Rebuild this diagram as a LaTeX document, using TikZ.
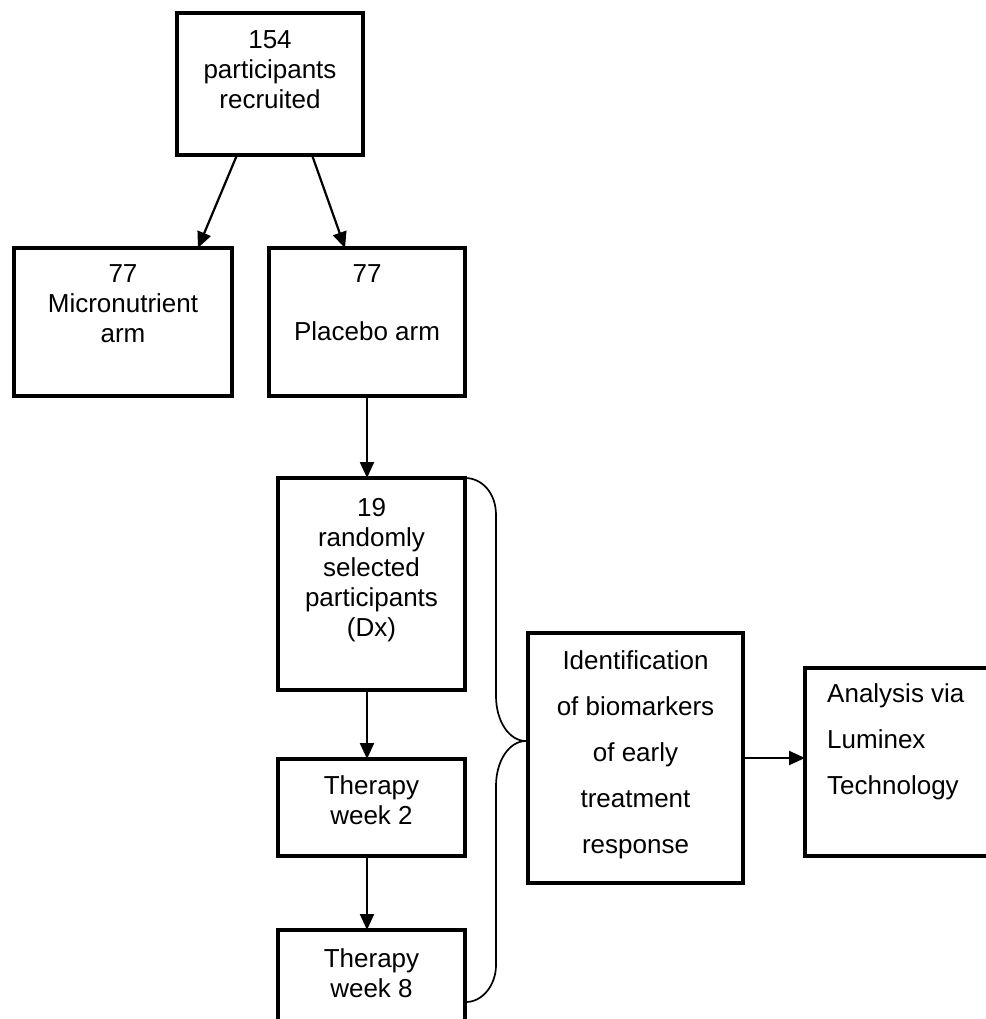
\documentclass[tikz,border=0pt]{standalone}
\usepackage{fontspec}
\setmainfont{Liberation Sans}
\usetikzlibrary{arrows.meta}
\begin{document}
\begin{tikzpicture}[x=1pt,y=-1pt,
  box/.style={draw, line width=4pt, rectangle, inner sep=0pt, outer sep=0pt},
  txt/.style={inner sep=0pt, anchor=north, align=center, font=\fontsize{26}{30}\selectfont},
  wtxt/.style={inner sep=0pt, anchor=north, align=center, font=\fontsize{26}{46}\selectfont},
  ltxt/.style={inner sep=0pt, anchor=north west, align=left, font=\fontsize{26}{46}\selectfont},
  arr/.style={line width=2.2pt, -{Triangle[length=16pt,width=14pt]}},
  brc/.style={line width=1.7pt}]
\useasboundingbox (0,0) rectangle (985,1019);
\fill[white] (0,0) rectangle (985,1019);

% boxes
\node[box, minimum width=186pt, minimum height=142pt] (top) at (270,84) {};
\node[box, minimum width=218pt, minimum height=148pt] (micro) at (123,322) {};
\node[box, minimum width=196pt, minimum height=148pt] (placebo) at (367,322) {};
\node[box, minimum width=187pt, minimum height=212pt] (b19) at (371.5,584) {};
\node[box, minimum width=187pt, minimum height=97pt] (tw2) at (371.5,807.5) {};
\node[box, minimum width=187pt, minimum height=110pt] (tw8) at (371.5,985) {};
\node[box, minimum width=215pt, minimum height=250pt] (ident) at (635.5,758) {};
\node[box, minimum width=195pt, minimum height=188pt] (anal) at (902.5,762) {};

% texts
\node[txt] (ttop) at (270,27) {\strut 154\\participants\\recruited};
\node[txt] (tmicro) at (123,261) {\strut 77\\Micronutrient\\arm};
\node[txt] (tplacebo) at (367,261) {\strut 77\\[28pt]Placebo arm};
\node[txt] (tb19) at (371.5,495) {\strut 19\\randomly\\selected\\participants\\(Dx)};
\node[txt] (ttw2) at (371.5,773) {\strut Therapy\\week 2};
\node[txt] (ttw8) at (371.5,946) {\strut Therapy\\week 8};
\node[wtxt] (tident) at (635.5,636.8) {\strut Identification\\of biomarkers\\of early\\treatment\\response};
\node[ltxt] (tanal) at (827,669.8) {\strut Analysis via\\Luminex\\Technology};

% arrows
\draw[arr] ([xshift=-33pt]top.south) -- ([xshift=75pt]micro.north);
\draw[arr] ([xshift=42pt]top.south) -- ([xshift=-22pt]placebo.north);
\draw[arr] (placebo.south) -- (placebo.south |- b19.north);
\draw[arr] (placebo.south |- b19.south) -- (placebo.south |- tw2.north);
\draw[arr] (placebo.south |- tw2.south) -- (placebo.south |- tw8.north);
\draw[arr] (ident.east) -- (anal.west |- ident.east);

% brace
\coordinate (tip) at (526,741);
\coordinate (bb) at (466,1002);
\draw[brc] (b19.north east) .. controls +(17,0) and +(0,-22) .. (496,515)
  -- (496,696) .. controls +(0,25) and +(-17,0) .. (tip)
  .. controls +(-17,0) and +(0,-25) .. (496,786)
  -- (496,965) .. controls +(0,20) and +(16.5,0) .. (bb);
\end{tikzpicture}
\end{document}
